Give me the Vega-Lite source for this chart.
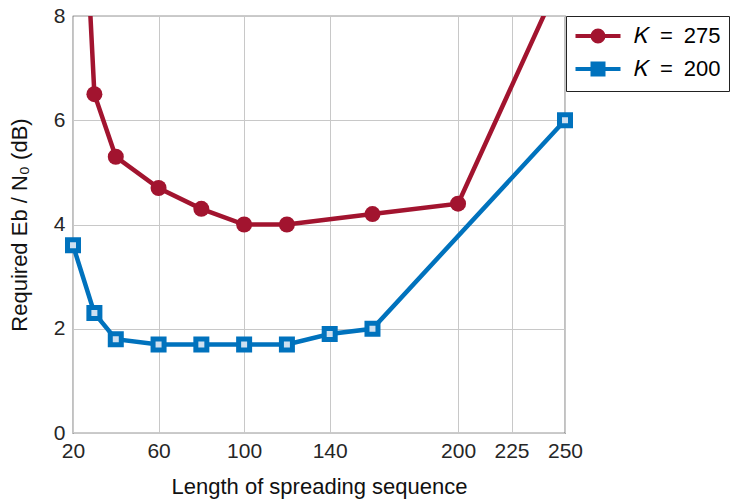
{
  "$schema": "https://vega.github.io/schema/vega-lite/v6.json",
  "width": 492,
  "height": 417,
  "autosize": "none",
  "padding": {"left": 73, "top": 16, "right": 165, "bottom": 68},
  "config": {
    "font": "Liberation Sans",
    "view": {"stroke": "#333333", "strokeWidth": 1.2},
    "axis": {"labelFontSize": 21, "labelColor": "#262626", "titleFontSize": 22, "titleFontWeight": "normal", "titleColor": "#111111", "gridColor": "#c8c8c8", "gridWidth": 1, "ticks": false, "domain": false}
  },
  "data": {
    "values": [
      {"n": 20, "y": 14.6, "s": "𝐾\u2002=\u2002275"},
      {"n": 30, "y": 6.5, "s": "𝐾\u2002=\u2002275"},
      {"n": 40, "y": 5.3, "s": "𝐾\u2002=\u2002275"},
      {"n": 60, "y": 4.7, "s": "𝐾\u2002=\u2002275"},
      {"n": 80, "y": 4.3, "s": "𝐾\u2002=\u2002275"},
      {"n": 100, "y": 4.0, "s": "𝐾\u2002=\u2002275"},
      {"n": 120, "y": 4.0, "s": "𝐾\u2002=\u2002275"},
      {"n": 160, "y": 4.2, "s": "𝐾\u2002=\u2002275"},
      {"n": 200, "y": 4.4, "s": "𝐾\u2002=\u2002275"},
      {"n": 250, "y": 8.9, "s": "𝐾\u2002=\u2002275"},
      {"n": 20, "y": 3.6, "s": "𝐾\u2002=\u2002200"},
      {"n": 30, "y": 2.3, "s": "𝐾\u2002=\u2002200"},
      {"n": 40, "y": 1.8, "s": "𝐾\u2002=\u2002200"},
      {"n": 60, "y": 1.7, "s": "𝐾\u2002=\u2002200"},
      {"n": 80, "y": 1.7, "s": "𝐾\u2002=\u2002200"},
      {"n": 100, "y": 1.7, "s": "𝐾\u2002=\u2002200"},
      {"n": 120, "y": 1.7, "s": "𝐾\u2002=\u2002200"},
      {"n": 140, "y": 1.9, "s": "𝐾\u2002=\u2002200"},
      {"n": 160, "y": 2.0, "s": "𝐾\u2002=\u2002200"},
      {"n": 250, "y": 6.0, "s": "𝐾\u2002=\u2002200"}
    ]
  },
  "encoding": {
    "x": {"field": "n", "type": "quantitative", "scale": {"domain": [20, 250], "nice": false, "zero": false},
      "axis": {"values": [20, 60, 100, 140, 200, 225, 250], "title": "Length of spreading sequence", "labelPadding": 7, "titlePadding": 15, "labelFlush": false}},
    "y": {"field": "y", "type": "quantitative", "scale": {"domain": [0, 8], "nice": false},
      "axis": {"values": [0, 2, 4, 6, 8], "title": "Required Eb / N₀  (dB)", "labelPadding": 8, "titlePadding": 22, "labelFlush": false}},
    "color": {"field": "s", "type": "nominal",
      "scale": {"domain": ["𝐾\u2002=\u2002275", "𝐾\u2002=\u2002200"], "range": ["#A2142F", "#0072BD"]}}
  },
  "layer": [
    {
      "mark": {"type": "line", "strokeWidth": 4.5, "clip": true},
      "encoding": {
        "color": {"field": "s", "type": "nominal",
          "scale": {"domain": ["𝐾\u2002=\u2002275", "𝐾\u2002=\u2002200"], "range": ["#A2142F", "#0072BD"]},
          "legend": {
            "title": null, "orient": "none", "legendX": 493, "legendY": 0,
            "strokeColor": "#222222", "fillColor": "white", "padding": 8,
            "symbolSize": 400, "symbolStrokeWidth": 4, "symbolOffset": 12, "labelOffset": 24,
            "labelFontSize": 22, "labelColor": "#000000", "rowPadding": 5,
            "encode": {"symbols": {"update": {
              "shape": {"signal": "indexof(datum.value, '275') >= 0 ? 'M-2.25,0H2.25M0.55,0A0.55,0.55,0,1,1,-0.55,0A0.55,0.55,0,1,1,0.55,0Z' : 'M-2.25,0H2.25M-0.55,-0.55H0.55V0.55H-0.55Z'"},
              "fill": {"signal": "indexof(datum.value, '275') >= 0 ? '#A2142F' : '#0072BD'"},
              "stroke": {"signal": "indexof(datum.value, '275') >= 0 ? '#A2142F' : '#0072BD'"},
              "strokeWidth": {"value": 4}
            }}}
          }}
      }
    },
    {
      "transform": [{"filter": "datum.y <= 8 && indexof(datum.s, '275') >= 0"}],
      "mark": {"type": "point", "shape": "circle", "filled": true, "size": 256, "opacity": 1},
      "encoding": {"color": {"field": "s", "type": "nominal", "legend": null}}
    },
    {
      "transform": [{"filter": "indexof(datum.s, '200') >= 0"}],
      "mark": {"type": "point", "shape": "square", "filled": false, "size": 121, "strokeWidth": 5, "fill": "#cfe0f0", "fillOpacity": 1, "opacity": 1},
      "encoding": {"stroke": {"value": "#0072BD"}}
    }
  ]
}
